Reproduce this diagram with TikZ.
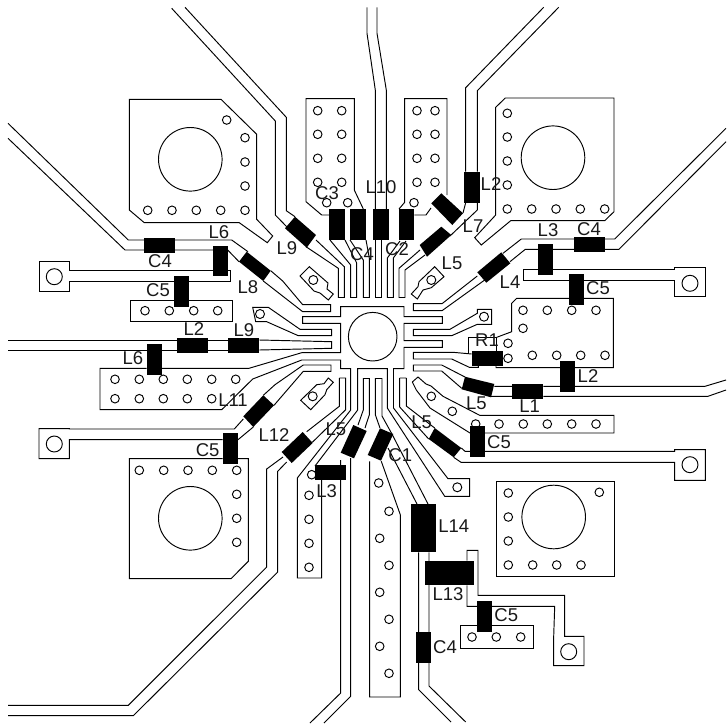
\documentclass[tikz,border=0pt]{standalone}
\usepackage{fontspec}
\setmainfont{Liberation Sans}
\tikzset{
 tr/.style={draw=black,line width=0.95pt,line join=miter},
 comp/.style={fill=black,draw=none},
 lab/.style={inner sep=0pt,font=\fontsize{18.5}{18.5}\selectfont,text=black!90},
}
\newcommand{\viaat}[2][4.3]{\foreach \p in {#2}{\path[tr] \p circle (#1);}}
\begin{document}
\begin{tikzpicture}[x=1pt,y=-1pt]
\useasboundingbox[fill=white] (0,0) rectangle (726,726);
% ---- large pads
\path[tr] (129.3,99.3)--(221,99.3)--(256.7,134.3)--(256.7,219.3)--(272.7,236)--(267.3,242.7)--(239.3,222.7)--(144.3,222.7)--(129.3,210)--cycle;
\path[tr] (495.7,107.3)--(505.3,98)--(614,98)--(614,211.7)--(604.7,220.7)--(510.7,220.7)--(481.3,245)--(474.7,237.7)--(495.7,215)--cycle;
\path[tr] (222.7,458.7)--(129.3,458.7)--(129.3,578.7)--(231,578.7)--(248.3,561.3)--(248.3,458.7)--(238,458.7);
\path[tr] (496.3,481) rectangle (614.3,576.3);
\foreach \p in {(190.3,159.3),(553,157.7),(190.3,518.3),(553.7,517)}{\path[tr] \p circle (31.8);}
\path[tr] (372.7,336.7) circle (24.3);
% top pad columns
\path[tr] (330,215)--(321.7,215)--(306,201.7)--(306,98.7)--(354.3,98.7)--(354.3,190)--(363.3,209);
\path[tr] (399,209)--(404.7,202.3)--(404.7,98.7)--(447,98.7)--(447,195);
\path[tr] (431,208)--(426,215)--(414.3,215);
% centre paddle with arms and stubs
\path[tr] (350.7,410)--(350.7,368.7)--(340.7,368.7)--(340.7,360)--(301.7,360)--(252.7,379)--(221.7,409.7)--(100,409.7)--(100,368.3)--(146.7,368.3) (161.7,368.3)--(249,368.3)--(301.7,352.7)--(340.7,352.7)--(340.7,323.3)--(302.7,323.3)--(302.7,316.7)--(340.7,316.7)--(340.7,306.7)--(404,306.7)--(404,316.7)--(442.3,316.7)--(442.3,323.3)--(404,323.3)--(404,340.7)--(442.3,340.7)--(442.3,347.3)--(404,347.3)--(404,368.7)--(393.5,368.7)--(393.5,408)--(448,478.7)--(469.7,478.7)--(469.7,496.3)--(444.7,496.3)--(387.3,408)--(387.3,368.7)--(357.7,368.7)--(357.7,410)--(315,466);
\path[tr] (350.7,410)--(297.3,478)--(297.3,567.3)--(297.3,578)--(321.7,578)--(321.7,479.7);
% top fingers
\path[tr] (306,246.7)--(338.3,268.3)--(338.3,297.5)--(344.3,297.5)--(344.3,266.7)--(316,240);
\path[tr] (330,240)--(350.7,265)--(350.7,297.5)--(356.7,297.5)--(356.7,263)--(345,240);
\path[tr] (350,240)--(363.3,260)--(363.3,297.5)--(369.3,297.5)--(369.3,258)--(366,240);
\path[tr] (375,240)--(375,297.5)--(381,297.5)--(381,240);
\path[tr] (400,241)--(387.3,258)--(387.3,297.5)--(393.3,297.5)--(393.3,258)--(406,241);
\path[tr] (420,250)--(399,268.3)--(399,297.5)--(405,297.5)--(405,270)--(425,255);
% top traces
\path[tr] (367,7.3)--(367,33.3)--(375.3,90)--(375.3,210);
\path[tr] (377,7.3)--(377,33.3)--(386.3,90)--(386.3,210);
\path[tr] (171.7,8.3)--(275.3,121)--(275.3,215)--(286.7,226.7);
\path[tr] (185,7.3)--(286.3,117.3)--(286.3,210.7)--(295,216.7);
\path[tr] (465.7,171.7)--(465.7,87.7)--(543.7,7.3);
\path[tr] (477.3,171.7)--(477.3,90.7)--(558.7,7.3);
\path[tr] (477.3,202.7)--(477.3,210)--(450,236);
\path[tr] (465.7,202.7)--(463,213);
% top right trace L4 etc
\path[tr] (726,128.3)--(614.7,239)--(521.3,239)--(503,253.3);
\path[tr] (726,141.7)--(619,249.3)--(525.3,249.3)--(510,261.7);
\path[tr] (477.3,276)--(442,303.7)--(413.3,303.7)--(413.3,310.7)--(442,310.7)--(484.7,280);
\path[tr] (538,269.3)--(523,269.3)--(523,280)--(569,280) (583.7,280)--(674.7,280)--(674.7,296.7)--(705.3,296.7)--(705.3,267.3)--(674.7,267.3)--(674.7,269.3)--(553,269.3);
\path[tr] (434.7,266.7)--(444,276.7)--(431.3,287.7)--(423,290)--(417.3,299)--(411.3,294)--(418,286.7)--(419,281.7)--cycle;
% small right via pad
\path[tr] (413.3,329.3)--(450,329.3)--(477.3,313.3)--(477.3,309.3)--(491.7,309.3)--(491.7,324.3)--(477.3,324.3)--(451.7,335.7)--(413.3,335.7)--cycle;
% R1 and right pad
\path[tr] (471.7,354)--(453,352.3)--(413.3,352.3)--(413.3,359)--(451.7,359)--(469.3,367.3)--(478.3,367.3)--(478.3,366);
\path[tr] (468.3,354)--(468.3,337.3)--(496.7,337.3)--(496.7,351);
\path[tr] (496.7,337.3)--(511.7,331.7)--(511.7,303.3)--(516.7,298.3)--(569,298.3) (583.7,298.3)--(613.3,298.3)--(613.3,367.7)--(496,367.7)--(496,366);
% right lower trace
\path[tr] (465,377)--(441.7,365)--(413.3,365)--(413.3,371)--(441.7,371)--(461.7,388.3);
\path[tr] (494.3,386.3)--(512.3,386.3) (543.3,386.3)--(705,386.3)--(726,380);
\path[tr] (491,396.3)--(512.3,396.3) (543.3,396.3)--(708,396.3)--(726,390);
% strip pad right
\path[tr] (412.3,382)--(418,377)--(426,384)--(431,386)--(443,396.3)--(479.7,415.3)--(614,415.3)--(614,433)--(485,433) (470,433)--(430,408)--(416.3,390)--(412.3,382);
% bottom fingers
\path[tr] (399.7,378)--(399.7,407)--(428.7,439);
\path[tr] (406.3,378)--(399.7,378) (406.3,378)--(406.3,406)--(434.7,428);
\path[tr] (461.3,448)--(465,451.3)--(674.7,451.3)--(674.7,449.7)--(705.3,449.7)--(705.3,480.3)--(674.7,480.3)--(674.7,462.3)--(461,462.3)--(453.7,457.3);
\path[tr] (375.3,378)--(375.3,414.7)--(380,428);
\path[tr] (382,378)--(382,416)--(392.5,435);
\path[tr] (375.3,378)--(382,378);
\path[tr] (363.3,378)--(363.3,410)--(358,425);
\path[tr] (369.3,378)--(369.3,415)--(365,428);
\path[tr] (363.3,378)--(369.3,378);
\path[tr] (339.3,378)--(345.7,378)--(345.7,409.7)--(312.3,442.3);
\path[tr] (339.3,378)--(339.3,406.3)--(306.7,431.7);
\path[tr] (388,448)--(417,504);
\path[tr] (392.3,434.7)--(428,504);
% bottom long pad
\path[tr] (369.7,461.3)--(369.7,697)--(400.3,697)--(400.3,514.7)--(381.3,461.3);
% L5 bottom trace
\path[tr] (340.7,460)--(340.7,693)--(310,723);
\path[tr] (350.7,458)--(350.7,696.3)--(324,723);
% L14 trace
\path[tr] (418.7,552.3)--(418.7,689.7)--(451,722);
\path[tr] (429,552.3)--(429,686)--(465.7,722);
% L13 trace
\path[tr] (467,560.7)--(467,550.3)--(478,550.3)--(478,595.3)--(564.7,595.3)--(564.7,636.3)--(584,636.3)--(584,665.7)--(553.7,665.7)--(553.7,636.3)--(554.7,606.3)--(492,606.3) (477,606.3)--(467,606.3)--(467,585.3);
\path[tr] (460.7,625.3) rectangle (533,648.7);
% left side
\path[tr] (8,123.3)--(128.3,240)--(231.7,240)--(248,251.7);
\path[tr] (8,138.3)--(125,250)--(213.3,250) (227.7,250)--(239,261.7);
\path[tr] (213.3,270.7)--(69.3,270.7)--(69.3,261.7)--(39.3,261.7)--(39.3,291)--(69.3,291)--(69.3,281)--(174.3,281) (189,281)--(230,281)--(230,270.7)--(228.3,270.7);
\path[tr] (130,300.7) rectangle (232.7,321);
\path[tr] (270.7,270.7)--(282.7,281)--(302.7,304.7)--(330.7,304.7)--(330.7,311.7)--(302.7,311.7)--(263.3,281);
\path[tr] (252.7,307.3)--(268.3,307.3)--(300,329.3)--(331.7,329.3)--(331.7,335.7)--(298.3,335.7)--(266.7,321.7)--(255.7,321.7)--cycle;
\path[tr] (259.3,340)--(331.7,341.7)--(331.7,348.3)--(259.3,350);
\path[tr] (8,340)--(177.3,340) (208.3,340)--(228.3,340);
\path[tr] (8,350)--(177.3,350) (208.3,350)--(228.3,350);
\path[tr] (300,276)--(309.3,266.7)--(328,283)--(327,289)--(333.3,294)--(328.3,300)--(320,293)--(314,291)--cycle;
\path[tr] (300.7,400.3)--(316.7,384.7)--(324,383.7)--(328.3,378)--(333.3,382.3)--(326.7,389.7)--(325,394.7)--(310.7,409.7)--cycle;
% L11
\path[tr] (263.3,395.3)--(275,384.7)--(303.3,365)--(331,365)--(331,371.3)--(303.3,371.3)--(274,405.3);
\path[tr] (243.3,419)--(234.3,429)--(69.3,429)--(69.3,428.7)--(39,428.7)--(39,458.7)--(69.3,458.7)--(69.3,439.7)--(222.7,439.7) (238,439.7)--(253.3,427);
% L12
\path[tr] (283,457)--(266.7,469)--(266.7,567)--(128.3,705.3)--(8,705.3);
\path[tr] (286.7,462)--(277.7,471.3)--(277.7,572)--(133.3,715.7)--(8,715.7);
% ---- bond pad holes
\foreach \p in {(690,283.3),(690,464.7),(54.3,276.7),(54.3,444),(568.7,651.7)}{\path[tr] \p circle (8);}
% ---- vias
\viaat{(226.7,120),(245,137.7),(245,162),(245,186),(245,210.3),(220.7,210.3),(196.3,210.3),(172,210.3),(147.7,210.3)}
\viaat{(507.3,113.3),(507.3,137),(507.3,161),(507.3,185),(507.3,209),(531.7,209),(556,209),(580.3,209),(604.7,209)}
\viaat{(317.7,110.7),(341.7,110.7),(317.7,134.3),(341.7,134.3),(317.7,158.3),(341.7,158.3),(317.7,182.3),(341.7,182.3),(326.7,202.7),(347.7,202.7)}
\viaat{(417,110.7),(435,110.7),(417,134.3),(435,134.3),(417,158.3),(435,158.3),(417,182.3),(435,182.3),(414,202.7)}
\viaat{(145,310.7),(169.3,310.7),(193.7,310.7),(217.7,310.7)}
\viaat{(115,379.3),(139.3,379.3),(163.3,379.3),(187.3,379.3),(211.7,379.3),(235.7,379.3),(115,398.7),(139.3,398.7),(163.3,398.7),(187.3,398.7),(211.7,398.7)}
\viaat{(139.3,470.3),(163.7,470.3),(188,470.3),(212.3,470.3),(236.7,470.3),(236.7,494.3),(236.7,518.3),(236.7,542.3)}
\viaat{(311.7,474.7),(309,495.3),(309,519.3),(309,543.3),(309,567.3)}
\viaat{(378.7,483),(389,511.3),(379.7,538.3),(389,565.3),(379.7,592.3),(389,619.3),(379.7,646.3),(389,673.3)}
\viaat{(523,310.3),(547.3,310.3),(571.7,310.3),(596,310.3),(523,328.3),(508,343.3),(508,358.3),(532.3,355.3),(556.7,355.3),(580.7,355.3),(605,355.3)}
\viaat{(431.3,396.3),(452.3,411.3),(475.7,424),(499,424),(523.3,424),(547.3,424),(571.7,424),(596,424)}
\viaat{(508.3,493),(599.3,492.3),(508.3,517),(508.3,541),(508.3,565),(532.7,565),(556.7,565),(581,565)}
\viaat{(472,637),(496.3,637),(520.7,637)}
\viaat[4.5]{(431.3,280),(313.3,280),(312.7,396.3),(484,316.7),(260,314),(457.3,487.3)}
% ---- components (axis aligned)
\foreach \a/\b/\c/\d in {329.3/209/345/240, 350/209/366/240, 373/209/389/240, 399/209/414.3/240,
 464/171.7/479.7/202.7, 574/237/605/252.3, 538/244/553.3/275, 569/274/583.7/305,
 144.3/238.3/175.3/253.3, 213.3/245.7/228.3/276, 174.3/276/189/306.7,
 177.3/338.3/208.3/352.7, 228.3/338.3/259.3/352.7, 146.7/344.3/161.7/375.3,
 222.7/433/238/464, 315/465.3/345.7/479.7, 471.7/351/502.7/366, 512.3/384/543.3/399,
 560/361/574.7/391.7, 470.3/425.7/485.3/457, 411.3/504/435.7/552.3, 425/560.7/473.7/585.3,
 477.3/601/492.3/631.7, 416.3/632/431.3/663}
 {\path[comp] (\a,\b) rectangle (\c,\d);}
% components (rotated)
\path[comp] (295,216.7)--(316,235)--(306.7,247.7)--(285,228.3)--cycle;
\path[comp] (246.7,251.7)--(270.7,270.7)--(263.3,281)--(239,261.7)--cycle;
\path[comp] (431.3,203.3)--(441.3,193.3)--(463,213.3)--(452.3,225)--cycle;
\path[comp] (419.7,245)--(441.3,226.7)--(451.3,235)--(427,256.7)--cycle;
\path[comp] (477.3,272.3)--(501.3,252.3)--(510.3,263.3)--(486.3,282.7)--cycle;
\path[comp] (263.3,395.3)--(274,405.3)--(253.3,427)--(243.3,416.3)--cycle;
\path[comp] (302.7,432)--(312.7,443)--(291.7,463)--(281.7,452)--cycle;
\path[comp] (353.3,425)--(366.7,431)--(354,458.3)--(340.7,452.7)--cycle;
\path[comp] (380,428.3)--(393.3,434)--(381,460.7)--(367.7,455)--cycle;
\path[comp] (434.7,428)--(461.3,448)--(453.7,457.3)--(428.7,439)--cycle;
\path[comp] (465,376.7)--(494.3,384)--(491,397.3)--(461.7,389.3)--cycle;
% ---- labels
\foreach \x/\y/\t/\n in {381/187/L10/a1, 327/193/C3/a2, 362/254/C4/a3, 397/249.3/C2/a4, 491/184/L2/a5,
 473/226/L7/a6, 452/263/L5/a7, 548/230/L3/a8, 589/229/C4/a9, 510/282/L4/a10, 598/288/C5/a11, 487/340/R1/a12,
 287/248/L9/a13, 219/232/L6/a14, 160/261/C4/a15, 248/287/L8/a16, 158/290/C5/a17, 194/329/L2/a18, 244/330/L9/a19,
 133/358/L6/a20, 233/400/L11/a21, 274/435/L12/a22, 207.7/449.7/C5/a23, 336/429.7/L5/a24, 326.7/490.7/L3/a25,
 400.3/455.3/C1/a26, 421.7/422.3/L5/a27, 476.3/403.7/L5/a28, 529.7/406.3/L1/a29, 588/376.3/L2/a30, 499/442.3/C5/a31,
 453.7/526.3/L14/a32, 448/593.7/L13/a33, 506.3/615.3/C5/a34, 445/647.3/C4/a35}
 {\node[lab] (\n) at (\x,\y) {\t};}
\end{tikzpicture}
\end{document}
